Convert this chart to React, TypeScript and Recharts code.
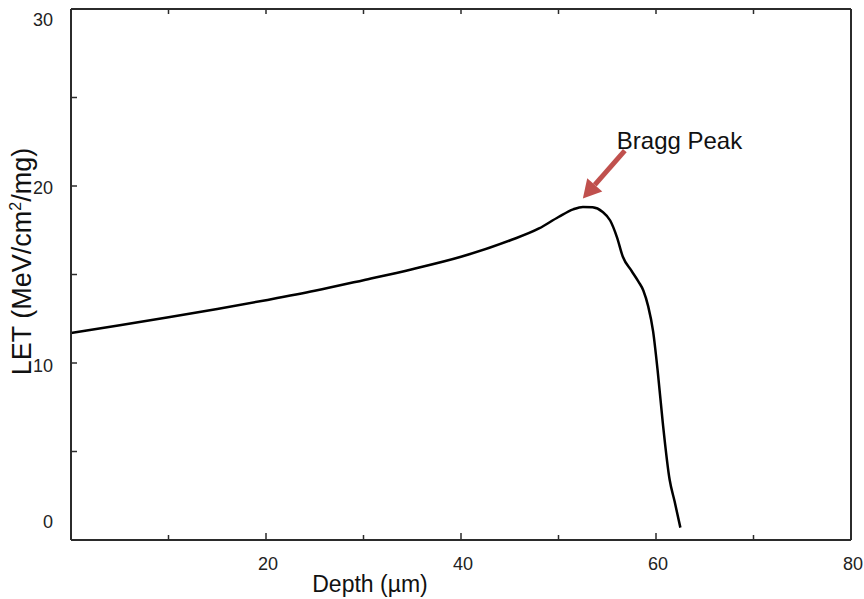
import React from 'react';
import { LineChart, Line, XAxis, YAxis, ReferenceLine } from 'recharts';

// depth (µm) vs LET (MeV/cm²/mg)
const depth = [0, 5, 10, 15, 20, 25, 30, 35, 40, 45, 48, 50, 51.5, 52.5, 53.5, 54.5, 55.3, 56, 56.6, 57.5, 58.2, 58.7, 59.2, 59.7, 60.2, 60.7, 61.4, 61.9, 62.5];
const letValues = [11.7, 12.13, 12.58, 13.05, 13.55, 14.08, 14.68, 15.3, 16.0, 16.92, 17.6, 18.25, 18.68, 18.82, 18.8, 18.55, 18.05, 17.1, 16.0, 15.2, 14.6, 14.1, 13.2, 11.8, 9.4, 6.6, 3.4, 2.2, 0.7];

const xTicks = [0, 10, 20, 30, 40, 50, 60, 70, 80];
const xLabels = [20, 40, 60, 80];
const yTicks = [0, 5, 10, 15, 20, 25, 30];
const yLabels = [0, 10, 20, 30];

// annotation: arrow from label down to the peak
const arrowTail = { x: 56.8, y: 22.0 };
const arrowHead = { x: 52.5, y: 19.3 };
const peakLabel = 'Bragg Peak';

const data = depth.map((d, i) => ({ depth: d, let: letValues[i] }));

const FONT = '"Liberation Sans", Arial, sans-serif';
const AXIS = '#2b2b2b';
const ARROW = '#c0504d';

// the y tick labels in the source sit a little off their ticks
const yLabelDy: Record<number, number> = { 30: 17, 20: 8, 10: 9, 0: -12 };

const BottomTick = (props: any) => {
  const { x, y, payload } = props;
  const v = payload.value;
  const len = v % 20 === 0 ? 7 : 5;
  return (
    <g>
      <line x1={x} y1={y} x2={x} y2={y - len} stroke={AXIS} strokeWidth={1.5} />
      {xLabels.includes(v) && (
        <text x={x + 2} y={y + 30} textAnchor="middle" fontSize={18} fontFamily={FONT} fill="#222">
          {v}
        </text>
      )}
    </g>
  );
};

const TopTick = (props: any) => {
  const { x, y } = props;
  return <line x1={x} y1={y} x2={x} y2={y + 5} stroke={AXIS} strokeWidth={1.5} />;
};

const LeftTick = (props: any) => {
  const { x, y, payload } = props;
  const v = payload.value;
  return (
    <g>
      <line x1={x} y1={y} x2={x + 6} y2={y} stroke={AXIS} strokeWidth={1.5} />
      {yLabels.includes(v) && (
        <text x={x - 18} y={y + (yLabelDy[v] ?? 6)} textAnchor="end" fontSize={18} fontFamily={FONT} fill="#222">
          {v}
        </text>
      )}
    </g>
  );
};

const RightTick = (props: any) => {
  const { x, y } = props;
  return <line x1={x} y1={y} x2={x - 6} y2={y} stroke={AXIS} strokeWidth={1.5} />;
};

const YTitle = (props: any) => {
  const vb = props.viewBox || { x: 10, y: 9, width: 61, height: 531 };
  const tx = vb.x + 21;
  const ty = vb.y + vb.height / 2 - 13;
  return (
    <text
      x={tx}
      y={ty}
      transform={`rotate(-90 ${tx} ${ty})`}
      textAnchor="middle"
      fontSize={27}
      fontFamily={FONT}
      fill="#111"
    >
      LET (MeV/cm<tspan dy={-10} fontSize={16}>2</tspan>
      <tspan dy={10}>/mg)</tspan>
    </text>
  );
};

const XTitle = (props: any) => {
  const vb = props.viewBox || { x: 71, y: 540, width: 780, height: 59 };
  return (
    <text x={vb.x + 299} y={vb.y + 52} textAnchor="middle" fontSize={23} fontFamily={FONT} fill="#111">
      Depth (µm)
    </text>
  );
};

const PeakArrow = (props: any) => {
  const { x1, y1, x2, y2 } = props;
  const dx = x2 - x1;
  const dy = y2 - y1;
  const len = Math.sqrt(dx * dx + dy * dy);
  const ux = dx / len;
  const uy = dy / len;
  const px = -uy;
  const py = ux;
  const headLen = 18;
  const headW = 10;
  const bx = x2 - ux * headLen;
  const by = y2 - uy * headLen;
  return (
    <g>
      <line x1={x1} y1={y1} x2={bx} y2={by} stroke={ARROW} strokeWidth={5} />
      <polygon
        points={`${x2},${y2} ${bx + px * headW},${by + py * headW} ${bx - px * headW},${by - py * headW}`}
        fill={ARROW}
      />
      <text x={x1 - 8} y={y1 - 2} fontSize={24} fontFamily={FONT} fill="#111">
        {peakLabel}
      </text>
    </g>
  );
};

export default function App() {
  return (
    <div style={{ position: 'absolute', left: 0, top: 0, width: 864, height: 599, background: '#fff' }}>
      <LineChart width={864} height={599} data={data} margin={{ top: 0, right: 0, left: 10, bottom: 0 }}>
        <XAxis
          xAxisId="bottom"
          dataKey="depth"
          type="number"
          domain={[0, 80]}
          ticks={xTicks}
          height={59}
          tickSize={0}
          tickMargin={0}
          tickLine={false}
          tick={<BottomTick />}
          axisLine={{ stroke: AXIS, strokeWidth: 2 }}
          label={<XTitle />}
          interval={0}
        />
        <XAxis
          xAxisId="top"
          orientation="top"
          dataKey="depth"
          type="number"
          domain={[0, 80]}
          ticks={xTicks}
          height={9}
          tickSize={0}
          tickMargin={0}
          tickLine={false}
          tick={<TopTick />}
          axisLine={{ stroke: AXIS, strokeWidth: 2 }}
          interval={0}
        />
        <YAxis
          yAxisId="left"
          type="number"
          domain={[0, 30]}
          ticks={yTicks}
          width={61}
          tickSize={0}
          tickMargin={0}
          tickLine={false}
          tick={<LeftTick />}
          axisLine={{ stroke: AXIS, strokeWidth: 2 }}
          label={<YTitle />}
          interval={0}
        />
        <YAxis
          yAxisId="right"
          orientation="right"
          type="number"
          domain={[0, 30]}
          ticks={yTicks}
          width={13}
          tickSize={0}
          tickMargin={0}
          tickLine={false}
          tick={<RightTick />}
          axisLine={{ stroke: AXIS, strokeWidth: 2 }}
          interval={0}
        />
        <Line
          xAxisId="bottom"
          yAxisId="left"
          type="monotone"
          dataKey="let"
          stroke="#000"
          strokeWidth={2.5}
          dot={false}
          activeDot={false}
          isAnimationActive={false}
        />
        <ReferenceLine
          xAxisId="bottom"
          yAxisId="left"
          segment={[arrowTail, arrowHead]}
          shape={<PeakArrow />}
          ifOverflow="visible"
        />
      </LineChart>
    </div>
  );
}
